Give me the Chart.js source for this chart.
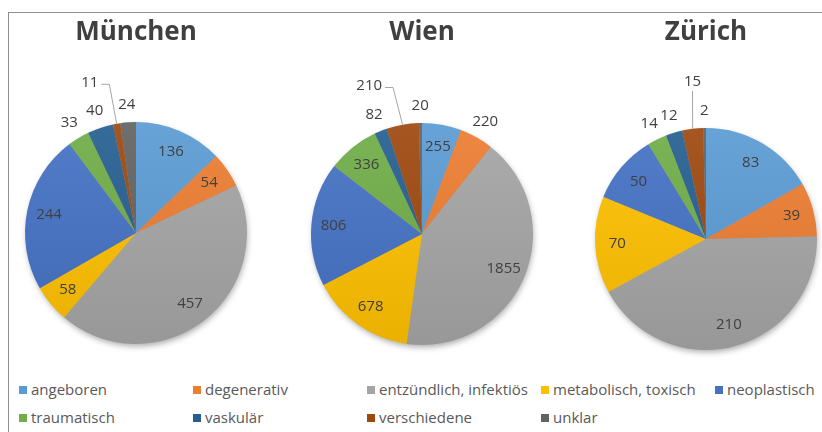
<!DOCTYPE html>
<html>
<head>
<meta charset="utf-8">
<script src="https://cdn.jsdelivr.net/npm/chart.js@4.4.0/dist/chart.umd.min.js"></script>
<style>
  body { margin: 0; background: #fff; overflow: hidden; width: 822px; height: 432px; position: relative; font-family: "Open Sans", sans-serif; }
  #frame { position: absolute; left: 8px; top: 12px; width: 900px; height: 500px; border: 1px solid #8f8f8f; }
  .pie { position: absolute; top: 0; width: 280px; height: 360px; }
  .item { position: absolute; font-size: 15px; color: #595959; line-height: 18px; white-space: nowrap; }
  .item span { display: inline-block; width: 8px; height: 8px; margin-right: 4px; vertical-align: 1px; }
</style>
</head>
<body>
<div id="frame"></div>
<div class="pie" id="p0"><canvas id="c0"></canvas></div>
<div class="pie" id="p1"><canvas id="c1"></canvas></div>
<div class="pie" id="p2"><canvas id="c2"></canvas></div>
<div id="legend"></div>
<script>
var categories = ['angeboren', 'degenerativ', 'entzündlich, infektiös', 'metabolisch, toxisch', 'neoplastisch',
                  'traumatisch', 'vaskulär', 'verschiedene', 'unklar'];
var cities = ['München', 'Wien', 'Zürich'];
var muenchen = [136, 54, 457, 58, 244, 33, 40, 11, 24];
var wien = [255, 220, 1855, 678, 806, 336, 82, 210, 20];
var zuerich = [83, 39, 210, 70, 50, 14, 12, 15, 2];
var colors = ['#5B9BD5', '#ED7D31', '#A5A5A5', '#FFC000', '#4472C4', '#70AD47', '#255E91', '#9E480E', '#636363'];

// layout
var centers = [[136, 233], [422, 234], [706, 239]];
var radius = 111;
var leaderShift = [-7, -9.5, 2];
var titleSize = 26;

function shade(hex, f) {
    var n = parseInt(hex.slice(1), 16);
    var c = [(n >> 16) & 255, (n >> 8) & 255, n & 255].map(function (v) {
        v = f > 0 ? v + (255 - v) * f : v * (1 + f);
        return Math.round(v);
    });
    return 'rgb(' + c.join(',') + ')';
}

function sliceFill(context) {
    var chart = context.chart;
    var area = chart.chartArea;
    var base = colors[context.dataIndex];
    if (!area) return base;
    var g = chart.ctx.createLinearGradient(0, area.top, 0, area.bottom);
    g.addColorStop(0, shade(base, 0.08));
    g.addColorStop(1, shade(base, -0.08));
    return g;
}

var pieShadow = {
    id: 'pieShadow',
    beforeDatasetsDraw: function (chart) {
        var arc = chart.getDatasetMeta(0).data[0];
        if (!arc) return;
        var ctx = chart.ctx;
        ctx.save();
        ctx.shadowColor = 'rgba(0,0,0,0.35)';
        ctx.shadowBlur = 6;
        ctx.shadowOffsetX = 1;
        ctx.shadowOffsetY = 3;
        ctx.fillStyle = '#999';
        ctx.beginPath();
        ctx.arc(arc.x, arc.y, arc.outerRadius - 1, 0, Math.PI * 2);
        ctx.fill();
        ctx.restore();
    }
};

var sliceLabels = {
    id: 'sliceLabels',
    afterDatasetsDraw: function (chart, args, opts) {
        var ctx = chart.ctx;
        var meta = chart.getDatasetMeta(0);
        var data = chart.data.datasets[0].data;
        var total = data.reduce(function (a, b) { return a + b; }, 0);
        ctx.save();
        ctx.font = '15px "Open Sans"';
        ctx.fillStyle = '#404040';
        ctx.textAlign = 'center';
        ctx.textBaseline = 'middle';
        meta.data.forEach(function (arc, i) {
            var p = arc.getProps(['x', 'y', 'startAngle', 'endAngle', 'outerRadius'], true);
            var mid = (p.startAngle + p.endAngle) / 2;
            var share = data[i] / total;
            var d, a = mid;
            if (i === opts.leaderIndex) {
                d = p.outerRadius * 1.42;
                a = mid + opts.leaderShift * Math.PI / 180;
            } else if (share >= 0.05) {
                d = p.outerRadius * 0.8;
            } else {
                d = p.outerRadius * 1.16;
            }
            var lx = p.x + Math.cos(a) * d;
            var ly = p.y + Math.sin(a) * d;
            var txt = String(data[i]);
            ctx.fillText(txt, lx, ly);
            if (i === opts.leaderIndex) {
                var ex = p.x + Math.cos(mid) * p.outerRadius;
                var ey = p.y + Math.sin(mid) * p.outerRadius;
                ctx.strokeStyle = '#a6a6a6';
                ctx.lineWidth = 1;
                ctx.beginPath();
                if (lx < ex - 8) {
                    var sx = lx + ctx.measureText(txt).width / 2 + 3;
                    ctx.moveTo(sx, ly + 2);
                    ctx.lineTo(sx + 8, ly + 2);
                } else {
                    ctx.moveTo(lx, ly + 9);
                }
                ctx.lineTo(ex, ey);
                ctx.stroke();
            }
        });
        ctx.restore();
    }
};

[muenchen, wien, zuerich].forEach(function (values, k) {
    var box = document.getElementById('p' + k);
    box.style.left = (centers[k][0] - 140) + 'px';
    var lineH = titleSize * 1.2;
    var padTop = 33 - lineH / 2;
    var areaTop = centers[k][1] - radius;
    new Chart(document.getElementById('c' + k), {
        type: 'pie',
        data: {
            labels: categories,
            datasets: [{
                data: values,
                backgroundColor: sliceFill,
                borderWidth: 0,
                hoverOffset: 0
            }]
        },
        options: {
            responsive: true,
            maintainAspectRatio: false,
            animation: false,
            layout: {
                padding: { left: 140 - radius, right: 140 - radius, top: 0, bottom: 360 - (centers[k][1] + radius) }
            },
            plugins: {
                legend: { display: false },
                tooltip: { enabled: false },
                title: {
                    display: true,
                    text: cities[k],
                    color: '#404040',
                    font: { family: 'Open Sans', size: titleSize, weight: 'bold' },
                    padding: { top: padTop, bottom: areaTop - padTop - lineH }
                },
                sliceLabels: { leaderIndex: 7, leaderShift: leaderShift[k] }
            }
        },
        plugins: [pieShadow, sliceLabels]
    });
});

// legend
var legend = document.getElementById('legend');
categories.forEach(function (name, i) {
    var row = i < 5 ? 0 : 1;
    var col = i < 5 ? i : i - 5;
    var el = document.createElement('div');
    el.className = 'item';
    el.style.left = (19 + col * 174) + 'px';
    el.style.top = (row === 0 ? 380 : 408) + 'px';
    el.innerHTML = '<span style="background:' + colors[i] + '"></span>' + name;
    legend.appendChild(el);
});
</script>
</body>
</html>
